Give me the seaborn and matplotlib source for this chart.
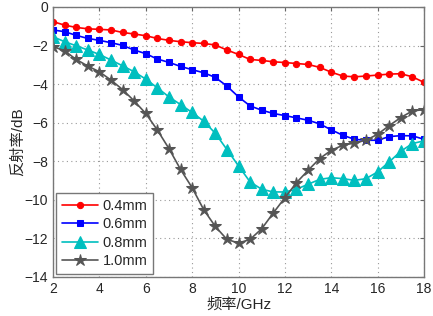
import numpy as np
import pandas as pd
import matplotlib
matplotlib.use('Agg')
import matplotlib.pyplot as plt
import seaborn as sns

# frequency points, 2-18 GHz every 0.5
freq = [2, 2.5, 3, 3.5, 4, 4.5, 5, 5.5, 6, 6.5, 7, 7.5, 8, 8.5, 9, 9.5, 10,
        10.5, 11, 11.5, 12, 12.5, 13, 13.5, 14, 14.5, 15, 15.5, 16, 16.5, 17, 17.5, 18]

rl_04 = [-0.76, -0.94, -1.06, -1.13, -1.16, -1.19, -1.32, -1.40, -1.49, -1.63, -1.73, -1.80, -1.85,
         -1.89, -1.97, -2.23, -2.46, -2.72, -2.77, -2.84, -2.88, -2.93, -2.98, -3.13, -3.38,
         -3.58, -3.62, -3.58, -3.53, -3.48, -3.46, -3.62, -3.91]
rl_06 = [-1.19, -1.28, -1.47, -1.63, -1.73, -1.85, -1.99, -2.23, -2.42, -2.70, -2.87, -3.08, -3.25,
         -3.41, -3.65, -4.10, -4.66, -5.13, -5.35, -5.52, -5.63, -5.75, -5.87, -6.06, -6.37,
         -6.65, -6.86, -6.91, -6.91, -6.72, -6.67, -6.68, -6.86]
rl_08 = [-1.54, -1.80, -2.01, -2.23, -2.46, -2.75, -3.05, -3.36, -3.74, -4.19, -4.66, -5.06, -5.47,
         -5.92, -6.55, -7.39, -8.24, -9.07, -9.45, -9.59, -9.59, -9.45, -9.19, -8.94, -8.85,
         -8.90, -8.99, -8.90, -8.55, -8.03, -7.48, -7.08, -6.94]
rl_10 = [-2.05, -2.27, -2.72, -3.06, -3.36, -3.79, -4.28, -4.87, -5.52, -6.38, -7.34, -8.42, -9.37,
         -10.51, -11.38, -12.05, -12.24, -12.05, -11.50, -10.68, -9.89, -9.11, -8.47, -7.86, -7.43,
         -7.17, -7.05, -6.91, -6.60, -6.15, -5.73, -5.39, -5.32]

labels = ['0.4mm', '0.6mm', '0.8mm', '1.0mm']
series = [rl_04, rl_06, rl_08, rl_10]
colors = ['#ff0000', '#0000ff', '#00bfbf', '#555555']
markers = ['o', 's', '^', '*']
msizes = [4.5, 4.5, 8, 9]

sns.set_style('white')
plt.rcParams['font.family'] = ['Liberation Sans', 'Noto Sans CJK SC', 'DejaVu Sans']
plt.rcParams['axes.unicode_minus'] = True

fig = plt.figure(figsize=(4.33, 3.16), dpi=100)
ax = fig.add_axes([53/433, 1 - 277/316, (424-53)/433, (277-7)/316])

for lab, vals, c, m, ms in zip(labels, series, colors, markers, msizes):
    df = pd.DataFrame({'freq': freq, 'rl': vals})
    sns.lineplot(data=df, x='freq', y='rl', ax=ax, color=c, marker=m, markersize=ms,
                 markeredgecolor=c, markerfacecolor=c, linewidth=1.2, label=lab)

ax.set_xlim(2, 18)
ax.set_ylim(-14, 0)
ax.set_xticks(np.arange(2, 19, 2))
ax.set_yticks(np.arange(-14, 1, 2))
ax.grid(True, linestyle=(0, (1, 3)), color='#999999', linewidth=0.8)
ax.tick_params(direction='in', labelsize=10, length=3, color='#666666', top=True, right=True)
for s in ax.spines.values():
    s.set_color('#777777')
    s.set_linewidth(1.0)

ax.set_xlabel('频率/GHz', fontsize=11, labelpad=1)
ax.set_ylabel('反射率/dB', fontsize=11, labelpad=0)

leg = ax.legend(loc='lower left', fontsize=10.5, handlelength=2.5, handletextpad=0.3,
                borderaxespad=0.2, fancybox=False, framealpha=1, labelspacing=0.3,
                borderpad=0.4)
leg.get_frame().set_edgecolor('#777777')

fig.savefig('out.png', dpi=100)
